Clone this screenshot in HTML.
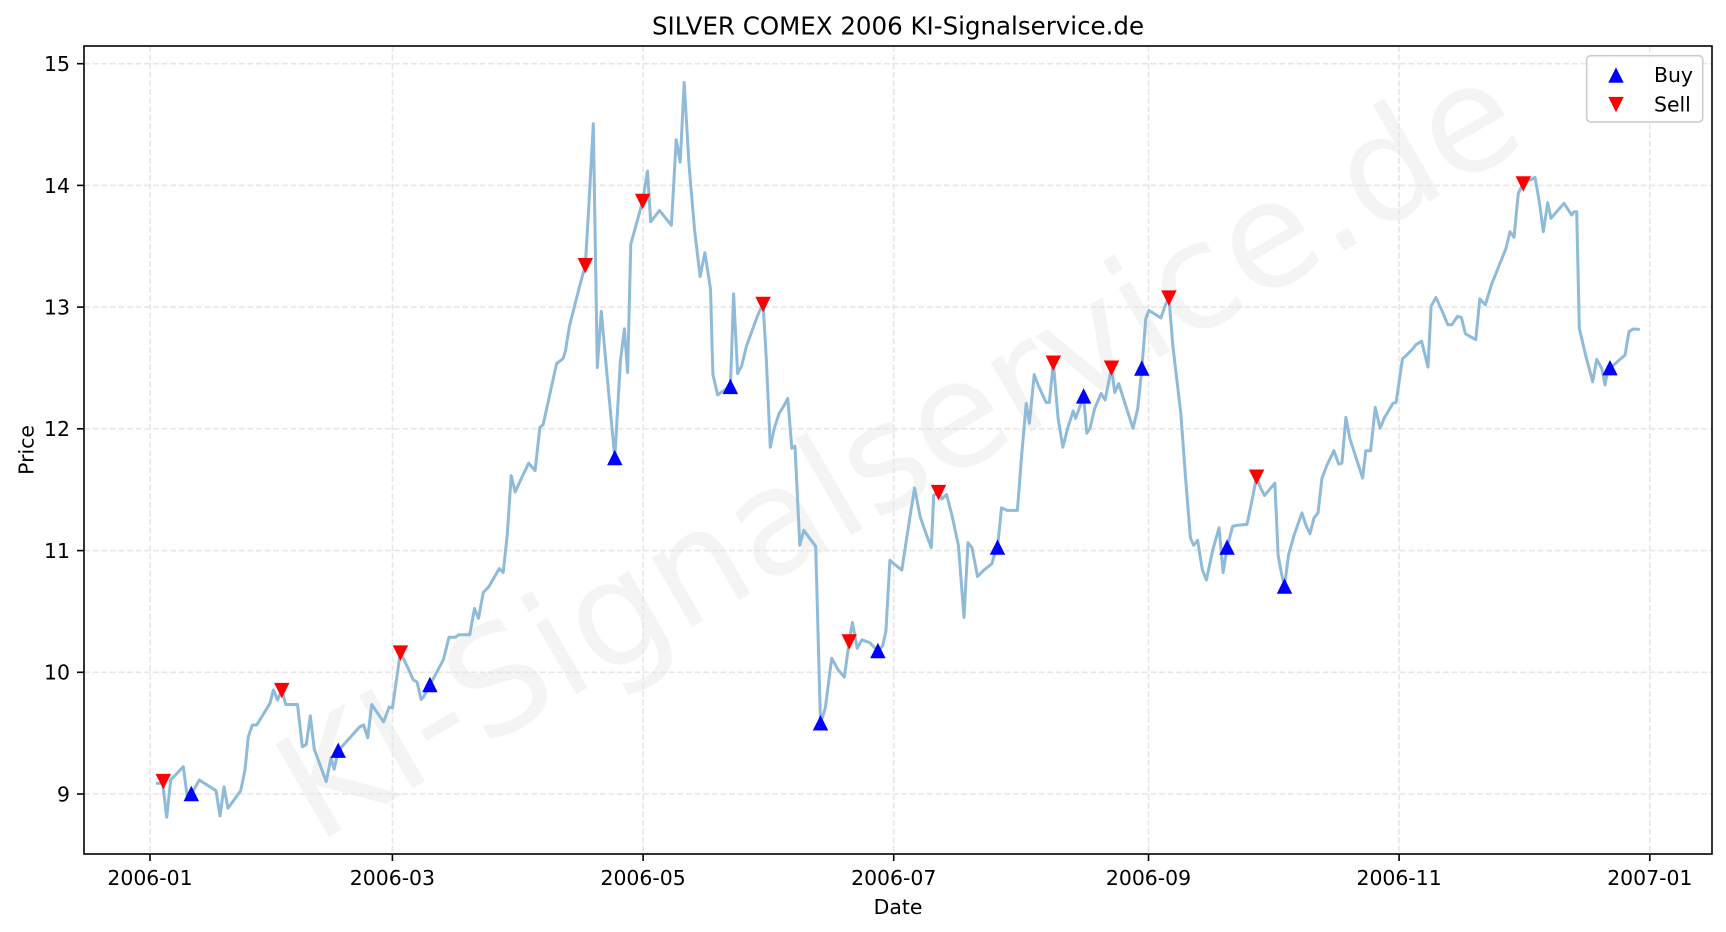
<!DOCTYPE html>
<html>
<head>
<meta charset="utf-8">
<style>
  html, body { margin: 0; padding: 0; background: #ffffff; }
  svg { display: block; }
  text { font-family: "DejaVu Sans", "Liberation Sans", sans-serif; fill: #000; }
</style>
</head>
<body>
<svg width="1726" height="932" viewBox="0 0 1726 932" xmlns="http://www.w3.org/2000/svg">
  <rect x="0" y="0" width="1726" height="932" fill="#ffffff"/>

  <!-- watermark -->
  <text x="0" y="0" transform="translate(898,450) rotate(-30)" text-anchor="middle" dominant-baseline="central" font-size="147" style="fill:#f4f4f4">KI-Signalservice.de</text>

  <!-- grid -->
  <g stroke="#e6e6e6" stroke-width="1.6" stroke-dasharray="6,2.6" fill="none">
    <line x1="150" y1="46" x2="150" y2="854"/>
    <line x1="392.4" y1="46" x2="392.4" y2="854"/>
    <line x1="643.1" y1="46" x2="643.1" y2="854"/>
    <line x1="893.7" y1="46" x2="893.7" y2="854"/>
    <line x1="1148.5" y1="46" x2="1148.5" y2="854"/>
    <line x1="1399.1" y1="46" x2="1399.1" y2="854"/>
    <line x1="1649.8" y1="46" x2="1649.8" y2="854"/>
    <line x1="84" y1="794" x2="1712" y2="794"/>
    <line x1="84" y1="672.3" x2="1712" y2="672.3"/>
    <line x1="84" y1="550.6" x2="1712" y2="550.6"/>
    <line x1="84" y1="428.8" x2="1712" y2="428.8"/>
    <line x1="84" y1="307.1" x2="1712" y2="307.1"/>
    <line x1="84" y1="185.4" x2="1712" y2="185.4"/>
    <line x1="84" y1="63.7" x2="1712" y2="63.7"/>
  </g>

  <!-- price line -->
  <polyline fill="none" stroke="#8fbbd9" stroke-width="3" stroke-linejoin="round" stroke-linecap="square" points="
157.3,783.3 162.7,783.3 166.7,817.3 170.7,780 183.3,766.7 187.3,797.3 191.3,794.3 199.3,780 216,790.7 220,816 224,786.7 228,808.3 240.7,790.7 245,770 248.3,736.7 252.3,725 256.7,725 270,703.3 273.4,690 277.5,700 281.8,690 285.7,704.5 297.5,704.5
302.3,746.8 306.3,744.3 310.3,715.9 314.3,749.3 326.2,781.6 331,757.7 334.2,769.2 338.2,750.8 359.7,726.9 363.7,724.9 367.7,737.8 371.7,704.5 383.6,721.9 389.2,707 392.4,708 400.4,652.5 407.6,667.2 413.1,679.6 417.1,682.1 421.1,699.5 423.5,697 429.9,685.1 443.4,659.7 449,637.3 455.4,637.3 458.6,634.8 469.7,634.8 474.5,608.5 478.5,618.4 483.3,592.5 488.9,586.6 499.2,568.6 503.2,572.6 507.2,535.3 511.2,475.6 515.2,492 521.5,478.1 528.7,463.2 535.1,470.6 539.9,427.3 543.1,424.8 556.6,363.6 563,358.7 565.4,351.2 569.4,326.3 578.9,289 585.3,265.1 588.5,211.9 593.3,123.8 597.3,367.6 601.3,311.4 606.9,373.6 614.8,458.2 620.4,361.1 624.4,328.8 627.6,372.6 630.8,244.2 635.6,226.8 642.7,200.9 647.5,171.1 650.7,221.8 659.5,210.4 666.6,219.3 671.4,225.3 676.2,139.7 680.2,162.1 684.2,82.5 689,164.6 694.5,229.3 700.1,276.6 704.9,252.7 710.5,289 712.9,374.6 717.7,395 720.9,392.5 725.6,389.5 730.4,387 733.6,294 737.6,373.6 741.6,366.1 746.4,346.2 758.3,313.9 763.1,303.9 766.3,358.7 770.3,447.2 774.3,428.3 779.1,413.4 783.8,405.9 787.8,398.5 791.8,448.2 795,446.2 799.8,545.3 803.8,530.3 808.5,536.8 815.7,546.3 820.5,723.4 825.3,708 831.7,658.2 838,669.7 844.4,677.1 849.2,641.3 852.4,622.4 857.2,648.3 862,639.8 869.9,642.8 877.9,651.2 882.7,645.8 885.9,631.3 889.9,560.2 893.8,563.7 901.8,570.1 909.8,517.9 914.6,488 920.2,516.9 925.7,532.8 931.3,547.7 933.7,495.5 938.5,492 941.7,499 946.5,494.5 952,515.4 958.4,545.3 964,617.4 968,542.8 972,547.7 977.5,576.6 983.9,570.1 991.9,563.7 994.3,555.2 997.5,547.7 1001.5,507.9 1007,510.4 1017.4,510.4 1021.4,458.2 1026.2,403.4 1029.4,423.3 1034.2,374.6 1038.1,385 1046.1,402.4 1049.3,402.4 1053.3,362.6 1058.1,418.4 1062.9,447.2 1067.6,428.3 1073.2,410.9 1075.6,418.4 1083.6,396.5 1086.8,433.3 1090,428.3 1094.7,408.4 1101.1,393.5 1105.1,400 1111.5,367.6 1114.7,392.5 1118.7,383.5 1125,403.4 1133,428.3 1137.8,408.4 1141.8,368.6 1145.8,318.8 1148.9,310.4 1160.9,317.9 1164.9,306.4 1168.9,297.5 1172.9,346.2 1180.8,413.4 1185.6,478.1 1190.4,537.8 1193.6,545.3 1197.6,540.3 1202.4,570.1 1206.4,580.1 1212.7,550.2 1219.1,527.8 1223.1,572.6 1227.1,547.7 1232.6,526.3 1236.6,525.4 1247,524.4 1252.5,498 1256.6,476.6 1260.6,488 1264.5,495.5 1274.9,483.1 1278.1,555.2 1281.3,572.6 1284.5,586.6 1288.5,555.2 1294,535.3 1302,512.9 1306,525.4 1310,533.8 1314,517.9 1318,512.9 1322,478.1 1326.7,465.6 1333.9,450.7 1338.7,464.1 1341.9,463.2 1345.9,417.4 1349.8,438.3 1356.2,458.2 1362.6,478.1 1365.8,450.7 1370.6,450.7 1375.3,407.4 1380.1,428.3 1384.1,418.4 1392.9,403.4 1396.1,402.4 1402.5,358.7 1406.5,355.2 1412,349.7 1416,344.7 1421.6,341.2 1428,367.1 1431.1,306.4 1435.9,297.5 1442.3,311.4 1447.9,324.8 1451.9,324.8 1457.4,316.4 1461.4,317.4 1465.4,333.8 1475.8,339.7 1479.8,298.9 1485.3,304.9 1491.7,284 1499.7,264.1
1506,248.3 1510,231.7 1514,237.3 1518.3,193.3 1523.3,183.3 1527.3,180.7 1531.7,179.3 1535,177.3 1539.3,201.7 1543.3,231.7 1547.7,202.7 1551,218.3 1564,203.3 1571.7,215 1574,211.7 1576.7,211.7 1579.3,328.3 1586,356.7 1592.7,381.7 1596.7,359.3 1601.7,368.3 1605,385 1608.3,366.7 1610,368.3 1625,355 1629,331.7 1633.3,329 1638.3,329.3"/>

  <!-- buy markers -->
  <g fill="#0000ff" stroke="#0000ff" stroke-width="2" stroke-linejoin="miter">
    <polygon points="191.3,788 185.2,800.2 197.4,800.2"/>
    <polygon points="338.2,744.7 332.1,756.9 344.3,756.9"/>
    <polygon points="429.9,679 423.8,691.2 436,691.2"/>
    <polygon points="614.8,452.1 608.7,464.3 620.9,464.3"/>
    <polygon points="730.4,380.9 724.3,393.1 736.5,393.1"/>
    <polygon points="820.5,717.3 814.4,729.5 826.6,729.5"/>
    <polygon points="877.9,645.1 871.8,657.3 884,657.3"/>
    <polygon points="997.5,541.6 991.4,553.8 1003.6,553.8"/>
    <polygon points="1083.6,390.4 1077.5,402.6 1089.7,402.6"/>
    <polygon points="1141.8,362.5 1135.7,374.7 1147.9,374.7"/>
    <polygon points="1227.1,541.6 1221,553.8 1233.2,553.8"/>
    <polygon points="1284.5,580.5 1278.4,592.7 1290.6,592.7"/>
    <polygon points="1610,362.2 1603.9,374.4 1616.1,374.4"/>
  </g>

  <!-- sell markers -->
  <g fill="#ff0000" stroke="#ff0000" stroke-width="2" stroke-linejoin="miter">
    <polygon points="163.3,787.1 157.2,774.9 169.4,774.9"/>
    <polygon points="281.8,696.1 275.7,683.9 287.9,683.9"/>
    <polygon points="400.4,658.6 394.3,646.4 406.5,646.4"/>
    <polygon points="585.3,271.2 579.2,259 591.4,259"/>
    <polygon points="642.7,207 636.6,194.8 648.8,194.8"/>
    <polygon points="763.1,310 757,297.8 769.2,297.8"/>
    <polygon points="849.2,647.4 843.1,635.2 855.3,635.2"/>
    <polygon points="938.5,498.1 932.4,485.9 944.6,485.9"/>
    <polygon points="1053.3,368.7 1047.2,356.5 1059.4,356.5"/>
    <polygon points="1111.5,373.7 1105.4,361.5 1117.6,361.5"/>
    <polygon points="1168.9,303.6 1162.8,291.4 1175,291.4"/>
    <polygon points="1256.6,482.7 1250.5,470.5 1262.7,470.5"/>
    <polygon points="1523.3,189.4 1517.2,177.2 1529.4,177.2"/>
  </g>

  <!-- axes frame -->
  <rect x="84" y="46" width="1628" height="808" fill="none" stroke="#000" stroke-width="1.6"/>

  <!-- ticks -->
  <g stroke="#000" stroke-width="1.6">
    <line x1="150" y1="854" x2="150" y2="861"/>
    <line x1="392.4" y1="854" x2="392.4" y2="861"/>
    <line x1="643.1" y1="854" x2="643.1" y2="861"/>
    <line x1="893.7" y1="854" x2="893.7" y2="861"/>
    <line x1="1148.5" y1="854" x2="1148.5" y2="861"/>
    <line x1="1399.1" y1="854" x2="1399.1" y2="861"/>
    <line x1="1649.8" y1="854" x2="1649.8" y2="861"/>
    <line x1="77" y1="794" x2="84" y2="794"/>
    <line x1="77" y1="672.3" x2="84" y2="672.3"/>
    <line x1="77" y1="550.6" x2="84" y2="550.6"/>
    <line x1="77" y1="428.8" x2="84" y2="428.8"/>
    <line x1="77" y1="307.1" x2="84" y2="307.1"/>
    <line x1="77" y1="185.4" x2="84" y2="185.4"/>
    <line x1="77" y1="63.7" x2="84" y2="63.7"/>
  </g>

  <!-- x tick labels -->
  <g font-size="20.4" text-anchor="middle">
    <text x="150" y="885">2006-01</text>
    <text x="392.4" y="885">2006-03</text>
    <text x="643.1" y="885">2006-05</text>
    <text x="893.7" y="885">2006-07</text>
    <text x="1148.5" y="885">2006-09</text>
    <text x="1399.1" y="885">2006-11</text>
    <text x="1649.8" y="885">2007-01</text>
  </g>

  <!-- y tick labels -->
  <g font-size="20.4" text-anchor="end">
    <text x="70" y="801.4">9</text>
    <text x="70" y="679.7">10</text>
    <text x="70" y="558">11</text>
    <text x="70" y="436.2">12</text>
    <text x="70" y="314.5">13</text>
    <text x="70" y="192.8">14</text>
    <text x="70" y="71.1">15</text>
  </g>

  <!-- axis labels -->
  <text x="898" y="914" font-size="20.4" text-anchor="middle">Date</text>
  <text x="0" y="0" transform="translate(33.5,450) rotate(-90)" font-size="20.4" text-anchor="middle">Price</text>

  <!-- title -->
  <text x="898" y="34.3" font-size="24.5" text-anchor="middle">SILVER COMEX 2006 KI-Signalservice.de</text>

  <!-- legend -->
  <rect x="1586.7" y="55.7" width="116" height="66.3" rx="4" ry="4" fill="#ffffff" fill-opacity="0.8" stroke="#cccccc" stroke-width="1.6"/>
  <polygon points="1616,69.6 1609.9,81.8 1622.1,81.8" fill="#0000ff" stroke="#0000ff" stroke-width="2"/>
  <polygon points="1616,110.1 1609.9,97.9 1622.1,97.9" fill="#ff0000" stroke="#ff0000" stroke-width="2"/>
  <text x="1654" y="82" font-size="20.4">Buy</text>
  <text x="1654" y="111.5" font-size="20.4">Sell</text>
</svg>
</body>
</html>
